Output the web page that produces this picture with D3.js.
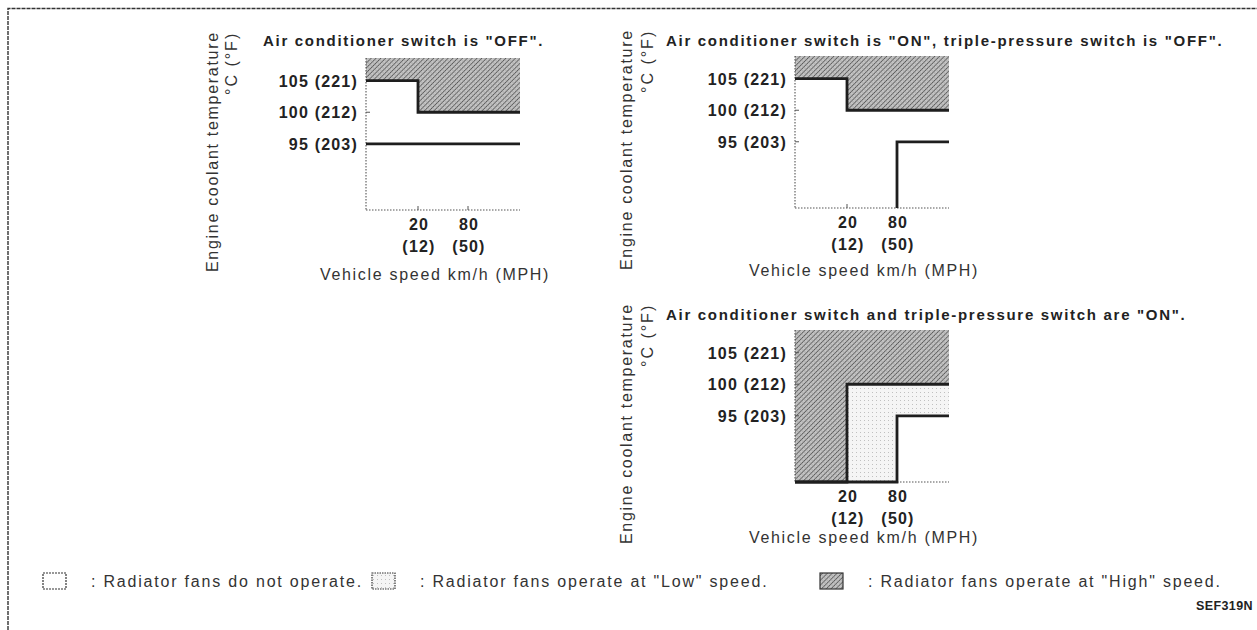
<!DOCTYPE html>
<html>
<head>
<meta charset="utf-8">
<script src="https://cdn.jsdelivr.net/npm/d3@7"></script>
<style>
  body { margin: 0; background: #fff; }
  svg { display: block; font-family: "Liberation Sans", Arial, sans-serif; }
  .title { font-weight: bold; font-size: 15px; letter-spacing: 1.7px; fill: #222; }
  .tick-label { font-weight: bold; font-size: 16px; letter-spacing: 1.2px; fill: #222; }
  .axis-title { font-size: 16px; letter-spacing: 1.7px; fill: #333; }
  .unit-title { font-size: 16px; letter-spacing: 2px; fill: #333; }
  .legend-text { font-size: 16px; letter-spacing: 1.8px; fill: #333; }
</style>
</head>
<body>
<svg id="chart" width="1257" height="630"></svg>
<script>
// ---- data ----
var tempC = [95, 100, 105];
var tempF = [203, 212, 221];
var speedKmh = [20, 80];
var speedMph = [12, 50];

// speed break points of the (schematic) x axis and temperature range shown
var speedStops = [0, 20, 80, 120];
var tempRange = [84.5, 108.6];

// "High" switching line: fans go to high above this line
var highOff = [[0, 105], [20, 105], [20, 100], [120, 100]];
var highOnTpOff = [[0, 105], [20, 105], [20, 100], [120, 100]];
var highOnTpOn = [[0, 84.5], [20, 84.5], [20, 100], [120, 100]];

// "Low" switching line: fans run (low) above this line
var lowOff = [[0, 95], [120, 95]];
var lowOnTpOff = [[80, 84.5], [80, 95], [120, 95]];
var lowOnTpOn = [[0, 84.5], [80, 84.5], [80, 95], [120, 95]];

var titles = [
    'Air conditioner switch is "OFF".',
    'Air conditioner switch is "ON", triple-pressure switch is "OFF".',
    'Air conditioner switch and triple-pressure switch are "ON".'
];

var legendLabels = [
    ': Radiator fans do not operate.',
    ': Radiator fans operate at "Low" speed.',
    ': Radiator fans operate at "High" speed.'
];

// ---- layout ----
var panels = [
    { x: 366, y: 58, high: highOff, low: lowOff, lowFill: false, title: titles[0],
      titleDx: -103, titleDy: -12, yLabelDx: -148, unitDx: -129, xTitleDy: 70 },
    { x: 795, y: 56, high: highOnTpOff, low: lowOnTpOff, lowFill: false, title: titles[1],
      titleDx: -129, titleDy: -10, yLabelDx: -163, unitDx: -142, xTitleDy: 68 },
    { x: 795, y: 330, high: highOnTpOn, low: lowOnTpOn, lowFill: true, title: titles[2],
      titleDx: -129, titleDy: -10, yLabelDx: -163, unitDx: -142, xTitleDy: 61 }
];
var plotW = 154, plotH = 152;

var svg = d3.select('#chart');
var defs = svg.append('defs');

// hatched pattern (high speed)
var hatch = defs.append('pattern')
    .attr('id', 'hatch')
    .attr('patternUnits', 'userSpaceOnUse')
    .attr('width', 3.4)
    .attr('height', 3.4)
    .attr('patternTransform', 'rotate(45)');
hatch.append('rect').attr('width', 3.4).attr('height', 3.4).attr('fill', '#c4c4c4');
hatch.append('line')
    .attr('x1', 0).attr('y1', 0).attr('x2', 0).attr('y2', 3.4)
    .attr('stroke', '#4a4a4a').attr('stroke-width', 1.5);
hatch.append('line')
    .attr('x1', 0).attr('y1', 1.7).attr('x2', 3.4).attr('y2', 1.7)
    .attr('stroke', '#9a9a9a').attr('stroke-width', 0.6);

// stippled pattern (low speed)
var stip = defs.append('pattern')
    .attr('id', 'stipple')
    .attr('patternUnits', 'userSpaceOnUse')
    .attr('width', 4)
    .attr('height', 4);
stip.append('rect').attr('width', 4).attr('height', 4).attr('fill', '#f5f5f5');
stip.append('rect').attr('x', 1).attr('y', 2).attr('width', 1).attr('height', 1).attr('fill', '#c0c0c0');

// scan frame
svg.append('path')
    .attr('d', 'M8,630 V8.5 H1257')
    .attr('fill', 'none')
    .attr('stroke', '#333')
    .attr('stroke-width', 1.4)
    .attr('stroke-dasharray', '4,1');

panels.forEach(function(p) {
    var x = d3.scaleLinear()
        .domain(speedStops)
        .range([0, 52, 102, plotW]);
    var y = d3.scaleLinear()
        .domain(tempRange)
        .range([plotH, 0]);

    var g = svg.append('g').attr('transform', 'translate(' + p.x + ',' + p.y + ')');

    var stepLine = d3.line()
        .x(function(d) { return x(d[0]); })
        .y(function(d) { return y(d[1]); });

    var topArea = d3.area()
        .x(function(d) { return x(d[0]); })
        .y0(y(tempRange[1]))
        .y1(function(d) { return y(d[1]); });

    if (p.lowFill) {
        g.append('path').datum(p.low)
            .attr('d', topArea)
            .attr('fill', 'url(#stipple)');
    }

    g.append('path').datum(p.high)
        .attr('d', topArea)
        .attr('fill', 'url(#hatch)');

    // axes (dotted, scanned look)
    g.append('line')
        .attr('x1', 0).attr('x2', 0)
        .attr('y1', 0).attr('y2', plotH)
        .attr('stroke', '#555').attr('stroke-width', 1.1)
        .attr('stroke-dasharray', '1.5,1.5');
    g.append('line')
        .attr('x1', 0).attr('x2', plotW)
        .attr('y1', plotH).attr('y2', plotH)
        .attr('stroke', '#555').attr('stroke-width', 1.1)
        .attr('stroke-dasharray', '1.5,1.5');

    // y ticks
    tempC.forEach(function(t, i) {
        g.append('line')
            .attr('x1', 0).attr('x2', 4)
            .attr('y1', y(t)).attr('y2', y(t))
            .attr('stroke', '#555');
        g.append('text')
            .attr('class', 'tick-label')
            .attr('x', -8)
            .attr('y', y(t) + 6)
            .attr('text-anchor', 'end')
            .text(t + ' (' + tempF[i] + ')');
    });

    // x ticks
    speedKmh.forEach(function(s, i) {
        g.append('line')
            .attr('x1', x(s)).attr('x2', x(s))
            .attr('y1', plotH).attr('y2', plotH - 4)
            .attr('stroke', '#555');
        g.append('text')
            .attr('class', 'tick-label')
            .attr('x', x(s) + 1)
            .attr('y', plotH + 20)
            .attr('text-anchor', 'middle')
            .text(s);
        g.append('text')
            .attr('class', 'tick-label')
            .attr('x', x(s) + 1)
            .attr('y', plotH + 42)
            .attr('text-anchor', 'middle')
            .text('(' + speedMph[i] + ')');
    });

    // threshold lines
    [p.high, p.low].forEach(function(d) {
        g.append('path').datum(d)
            .attr('d', stepLine)
            .attr('fill', 'none')
            .attr('stroke', '#1e1e1e')
            .attr('stroke-width', 2.8);
    });

    // titles
    g.append('text')
        .attr('class', 'title')
        .attr('x', p.titleDx)
        .attr('y', p.titleDy)
        .text(p.title);

    g.append('text')
        .attr('class', 'axis-title')
        .attr('x', 69)
        .attr('y', plotH + p.xTitleDy)
        .attr('text-anchor', 'middle')
        .text('Vehicle speed km/h (MPH)');

    g.append('text')
        .attr('class', 'axis-title')
        .attr('transform', 'translate(' + p.yLabelDx + ',' + (plotH + 62) + ') rotate(-90)')
        .text('Engine coolant temperature');

    g.append('text')
        .attr('class', 'unit-title')
        .attr('transform', 'translate(' + p.unitDx + ',' + 37 + ') rotate(-90)')
        .text('°C (°F)');
});

// ---- legend ----
var legendX = [43, 372, 820];
var legendFill = ['#fff', 'url(#stipple)', 'url(#hatch)'];
var legendDash = ['2,1', '1.5,1', 'none'];
var lg = svg.append('g').attr('transform', 'translate(0,573)');
legendLabels.forEach(function(lbl, i) {
    lg.append('rect')
        .attr('x', legendX[i])
        .attr('y', 0)
        .attr('width', 23)
        .attr('height', 16)
        .attr('fill', legendFill[i])
        .attr('stroke', '#333')
        .attr('stroke-width', 1.2)
        .attr('stroke-dasharray', legendDash[i]);
    lg.append('text')
        .attr('class', 'legend-text')
        .attr('x', legendX[i] + 48)
        .attr('y', 14)
        .text(lbl);
});

svg.append('text')
    .attr('x', 1253)
    .attr('y', 610)
    .attr('text-anchor', 'end')
    .style('font-weight', 'bold')
    .style('font-size', '12.5px')
    .style('letter-spacing', '0.4px')
    .style('fill', '#222')
    .text('SEF319N');
</script>
</body>
</html>
